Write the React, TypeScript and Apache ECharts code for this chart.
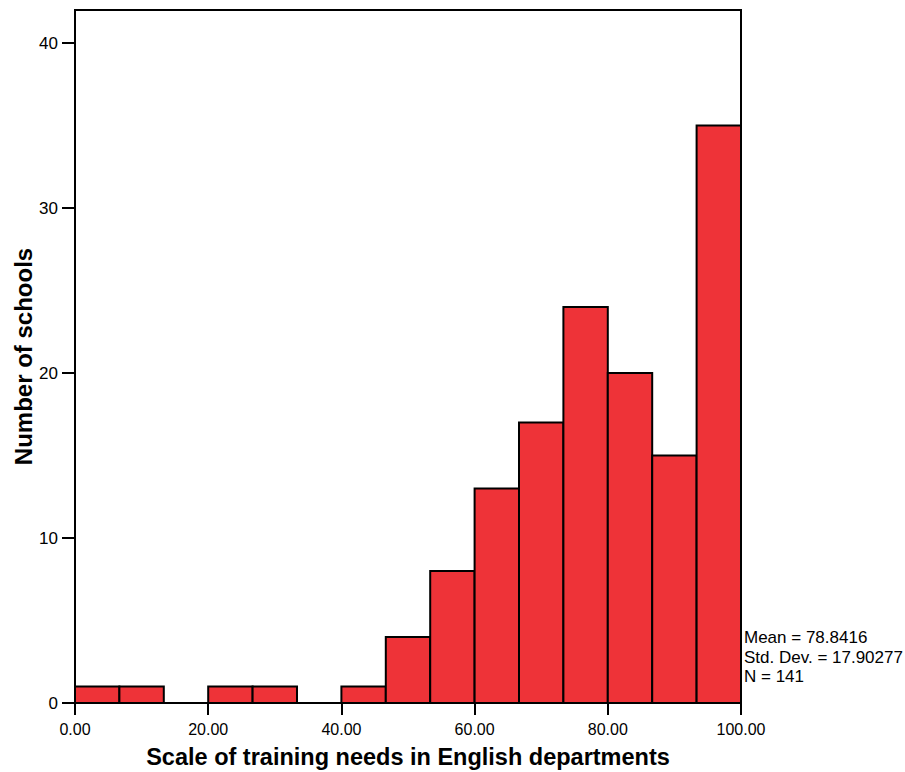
import React, { useEffect, useRef } from "react";
import * as echarts from "echarts";

const binStarts = [0, 6.6667, 13.3333, 20, 26.6667, 33.3333, 40, 46.6667, 53.3333, 60, 66.6667, 73.3333, 80, 86.6667, 93.3333];
const binEnds = [6.6667, 13.3333, 20, 26.6667, 33.3333, 40, 46.6667, 53.3333, 60, 66.6667, 73.3333, 80, 86.6667, 93.3333, 100];
const counts = [1, 1, 0, 1, 1, 0, 1, 4, 8, 13, 17, 24, 20, 15, 35];
const xTicks = [0, 20, 40, 60, 80, 100];
const yTicks = [0, 10, 20, 30, 40];
const statsLines = ["Mean = 78.8416", "Std. Dev. = 17.90277", "N = 141"];

const FONT = "'Liberation Sans', Arial, Helvetica, sans-serif";

export default function App() {
  const ref = useRef<HTMLDivElement>(null);
  useEffect(() => {
    if (!ref.current) return;
    const chart = echarts.init(ref.current, null, { renderer: "svg" });
    const data = binStarts.map((s, i) => [s, binEnds[i], counts[i]]).filter((d) => d[2] > 0);
    chart.setOption({
      animation: false,
      backgroundColor: "#ffffff",
      grid: {
        left: 75,
        right: 164,
        top: 10,
        bottom: 69,
        outerBoundsMode: "none",
        containLabel: false,
        show: true,
        borderColor: "#000",
        borderWidth: 2,
        backgroundColor: "transparent",
      },
      xAxis: {
        type: "value",
        min: 0,
        max: 100,
        name: "Scale of training needs in English departments",
        nameLocation: "middle",
        nameGap: 42,
        nameTextStyle: { fontFamily: FONT, fontSize: 23.5, fontWeight: "bold", color: "#000" },
        axisLine: { show: true, lineStyle: { color: "#000", width: 2 } },
        axisTick: { show: true, length: 12, lineStyle: { color: "#000", width: 2 }, customValues: xTicks },
        axisLabel: {
          customValues: xTicks,
          formatter: (v: number) => v.toFixed(2),
          fontFamily: FONT,
          fontSize: 16,
          color: "#000",
          margin: 18,
        },
        splitLine: { show: false },
      },
      yAxis: {
        type: "value",
        min: 0,
        max: 42,
        name: "Number of schools",
        nameLocation: "middle",
        nameGap: 40,
        nameMoveOverlap: false,
        nameTextStyle: { fontFamily: FONT, fontSize: 24, fontWeight: "bold", color: "#000" },
        axisLine: { show: true, lineStyle: { color: "#000", width: 2 } },
        axisTick: { show: true, length: 13, lineStyle: { color: "#000", width: 2 }, customValues: yTicks },
        axisLabel: {
          customValues: yTicks,
          fontFamily: FONT,
          fontSize: 17,
          color: "#000",
          margin: 17,
        },
        splitLine: { show: false },
      },
      series: [
        {
          type: "custom",
          data,
          encode: { x: [0, 1], y: 2 },
          renderItem: (params: any, api: any) => {
            const s = api.value(0);
            const e = api.value(1);
            const c = api.value(2);
            const p0 = api.coord([s, c]);
            const p1 = api.coord([e, 0]);
            return {
              type: "rect",
              shape: { x: p0[0], y: p0[1], width: p1[0] - p0[0], height: p1[1] - p0[1] },
              style: { fill: "#EE3338", stroke: "#000", lineWidth: 2 },
            };
          },
        },
      ],
      graphic: statsLines.map((t, i) => ({
        type: "text",
        left: 744,
        top: 629 + i * 19.5,
        style: { text: t, fontFamily: FONT, fontSize: 17, fill: "#000" },
      })),
    });
    return () => chart.dispose();
  }, []);
  return <div ref={ref} style={{ width: 905, height: 772, position: "absolute", left: 0, top: 0 }} />;
}
